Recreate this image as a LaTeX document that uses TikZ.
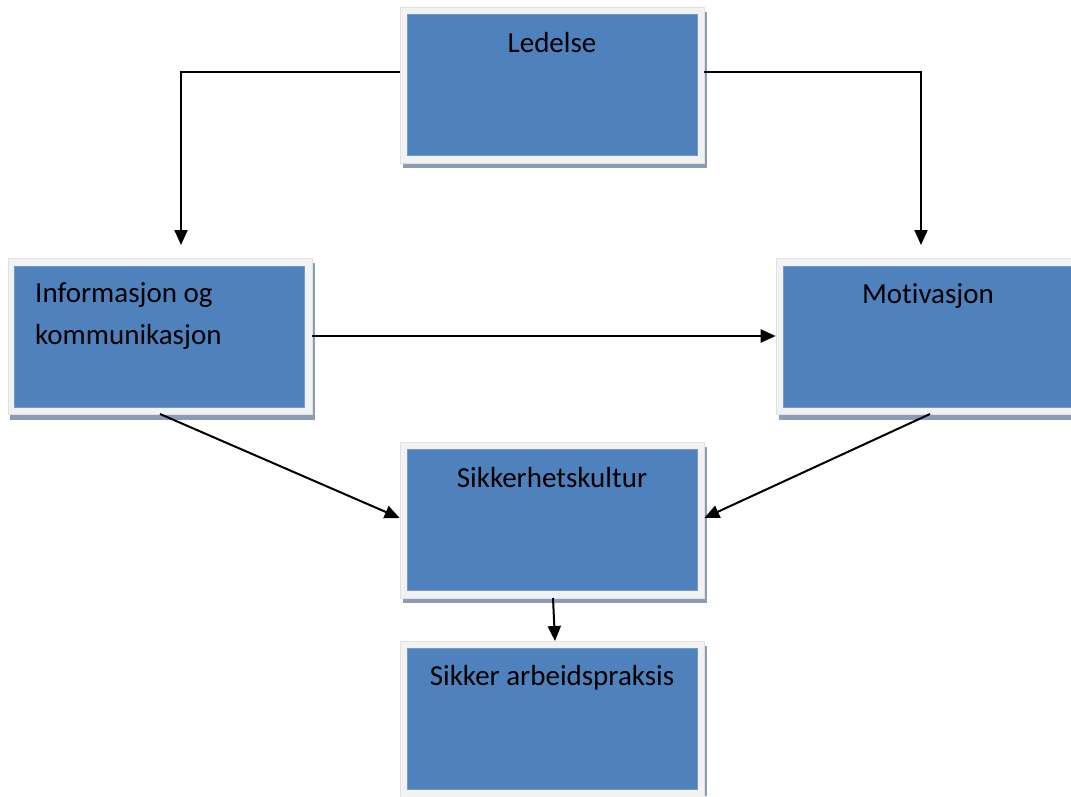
\documentclass[tikz,border=0pt]{standalone}
\usepackage{fontspec}
\setmainfont[Ligatures=NoCommon]{Carlito}
\usetikzlibrary{arrows.meta}
\definecolor{boxblue}{HTML}{4F81BD}
\definecolor{framegray}{HTML}{F2F2F2}
\definecolor{shadowc}{HTML}{8C9CB4}
\tikzset{
  frame/.style={draw=framegray!85!gray, line width=0.6pt, fill=framegray, inner sep=0pt, minimum width=304, minimum height=156},
  innerbox/.style={draw=boxblue!80!white, line width=0.6pt, fill=boxblue, inner sep=0pt, minimum width=290, minimum height=141},
  lbl/.style={font=\fontsize{29}{42}\selectfont, inner sep=0pt, anchor=base},
  conn/.style={line width=2pt, -{Triangle[length=15,width=13]}}
}
\begin{document}
\begin{tikzpicture}[x=1pt,y=-1pt]
\useasboundingbox (0,0) rectangle (1071,796);
\fill[white] (0,0) rectangle (1071,796);
% shadows
\fill[shadowc] (403,163) rectangle (707,168);
\fill[shadowc] (704,12) rectangle (707,168);
\fill[shadowc] (10,415) rectangle (315,420);
\fill[shadowc] (312,263) rectangle (315,420);
\fill[shadowc] (779,414) rectangle (1071,420);
\fill[shadowc] (403,598) rectangle (707,603);
\fill[shadowc] (704,447) rectangle (707,603);
\fill[shadowc] (704,646) rectangle (707,796);
% frames
\node[frame] (led) at (552,85) {};
\node[frame] (info) at (160,336) {};
\node[frame] (mot) at (928,336) {};
\node[frame] (sik) at (552,520) {};
\node[frame, minimum height=160] (arb) at (552,721) {};
% inner boxes
\node[innerbox] (ledi) at (552,84.5) {};
\node[innerbox] (infoi) at (159.5,336.5) {};
\node[innerbox] (moti) at (928,336.5) {};
\node[innerbox] (siki) at (552,520) {};
\node[innerbox] (arbi) at (552,718.5) {};
% labels
\node[lbl] (tled) at (552,52) {Ledelse};
\node[lbl, anchor=base west, align=left] (tinfo) at (35,344) {Informasjon og\\kommunikasjon};
\node[lbl] (tmot) at (928,303) {Motivasjon};
\node[lbl] (tsik) at (552,487) {Sikkerhetskultur};
\node[lbl] (tarb) at (552,685) {Sikker arbeidspraksis};
% connectors
\coordinate (l1) at (181,72);
\coordinate (r1) at (921,72);
\draw[conn] (led.west |- 0,72) -- (l1) -- (181,245);
\draw[conn] (led.east |- 0,72) -- (r1) -- (921,245);
\draw[conn] (info.east |- 0,336) -- (mot.west |- 0,336);
\draw[conn] (160,414) -- (sik.west |- 0,518);
\draw[conn] (930,414) -- (sik.east |- 0,518);
\draw[conn] (553,598) -- (555,641);
\end{tikzpicture}
\end{document}
